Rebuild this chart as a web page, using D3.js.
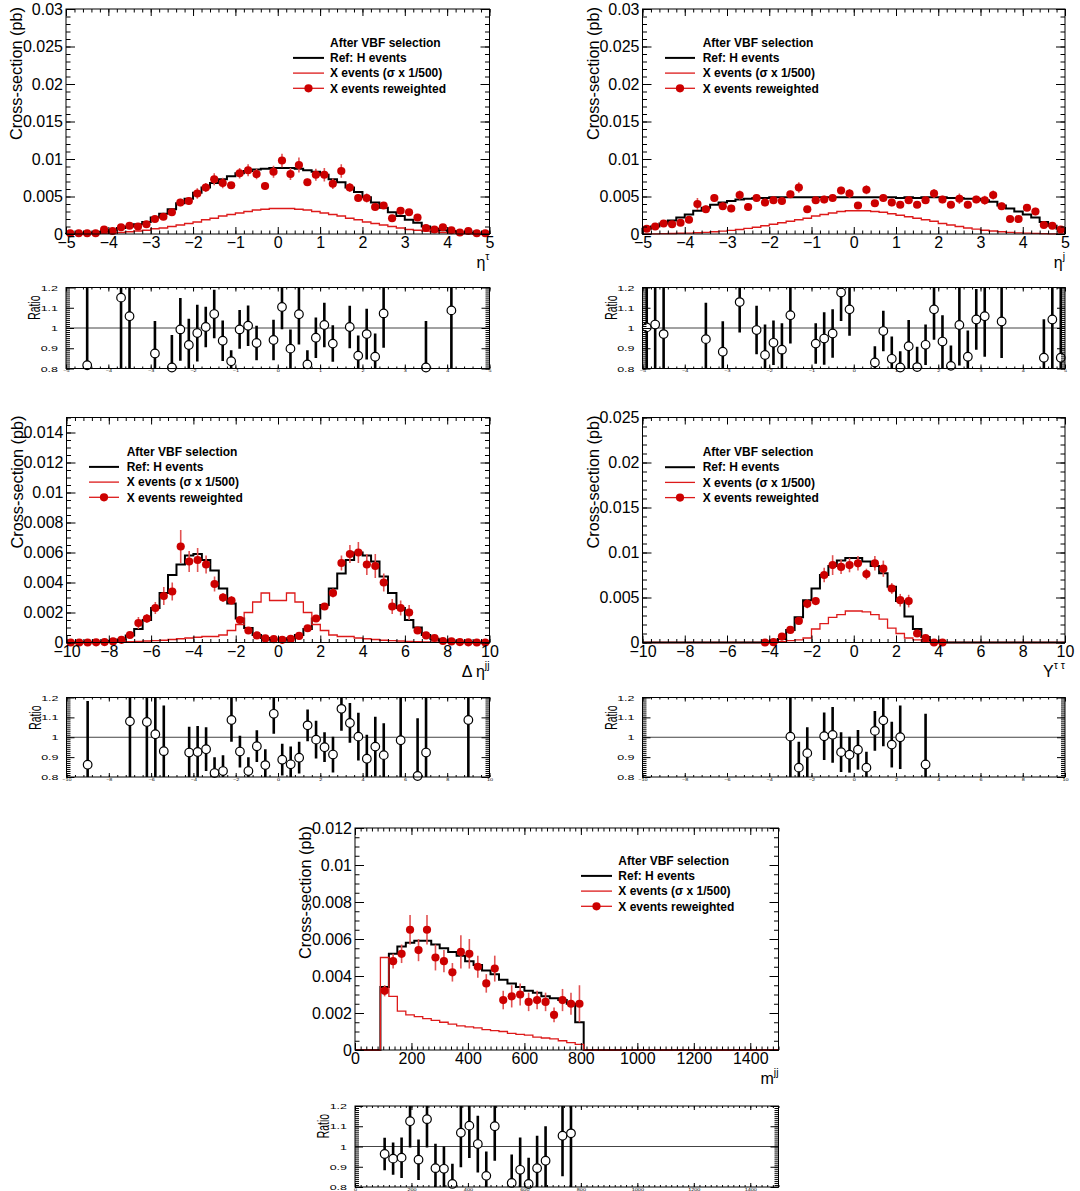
<!DOCTYPE html>
<html><head><meta charset="utf-8">
<script src="https://cdn.jsdelivr.net/npm/d3@7/dist/d3.min.js"></script>
<style>
body{margin:0;background:#fff;}
svg{display:block;}
</style></head><body>
<svg id="c" width="1080" height="1191"></svg>
<script>
// ---------------- DATA ----------------
// Panel 1: eta^tau, 50 bins from -5 to 5
const tauH = [0.00003,0.00005,0.0001,0.00018,0.0003,0.0005,0.0008,0.0010,0.0013,0.0016,
 0.0022,0.0027,0.0033,0.0041,0.0047,0.0055,0.0062,0.0068,0.0073,0.0077,
 0.0081,0.0084,0.0086,0.0087,0.0088,0.0088,0.0088,0.0087,0.0085,0.0083,
 0.0079,0.0073,0.0069,0.0062,0.0056,0.0049,0.0042,0.0035,0.0029,0.0024,
 0.0019,0.0015,0.0010,0.0007,0.0005,0.0004,0.0002,0.00012,0.00006,0.00003];
const tauX = [0,0.00002,0.00004,0.00006,0.0001,0.00014,0.0002,0.0003,0.0004,0.0005,
 0.0007,0.0008,0.0010,0.0012,0.0014,0.0016,0.0019,0.0021,0.0024,0.0026,
 0.0028,0.0030,0.0032,0.0033,0.0034,0.0034,0.0034,0.0033,0.0032,0.0030,
 0.0028,0.0026,0.0024,0.0021,0.0019,0.0016,0.0014,0.0012,0.0010,0.0008,
 0.0006,0.0005,0.0004,0.0003,0.0002,0.00014,0.0001,0.00006,0.00003,0.00002];
const tauPts = [0.0001,0.0001,0.0001,0.0001,0.0006,0.0004,0.0009,0.0011,0.0010,0.0013,
 0.0020,0.0023,0.0029,0.0042,0.0044,0.0054,0.0062,0.0073,0.0068,0.0065,
 0.0081,0.0085,0.0080,0.0064,0.0083,0.0098,0.0080,0.0092,0.0069,0.0079,
 0.0079,0.0067,0.0084,0.0062,0.0048,0.0048,0.0036,0.0038,0.0021,0.0031,
 0.0029,0.0022,0.0008,0.0006,0.0009,0.0005,0.0002,0.0004,0.0001,0.0001];
const tauErr = [0.0001,0.0001,0.0001,0.0001,0.0002,0.0002,0.0003,0.0003,0.0003,0.0003,
 0.0004,0.0004,0.0004,0.0005,0.0005,0.0007,0.0006,0.0008,0.0007,0.0004,
 0.0007,0.0008,0.0007,0.0005,0.0008,0.0009,0.0008,0.0010,0.0005,0.0008,
 0.0009,0.0007,0.0009,0.0006,0.0005,0.0006,0.0004,0.0004,0.0003,0.0004,
 0.0004,0.0004,0.0002,0.0002,0.0002,0.0001,0.0001,0.0001,0.0001,0.0001];
const tauRatioX = [-4.5,-3.7,-3.5,-2.9,-2.5,-2.3,-2.1,-1.9,-1.7,-1.5,-1.3,-1.1,-0.9,-0.7,-0.5,-0.1,0.1,0.3,0.5,0.7,0.9,1.1,1.3,1.7,1.9,2.1,2.3,2.5,3.5,4.1];
const tauRatio = [0.816,1.15,1.058,0.874,0.805,0.993,0.916,0.975,1.005,1.069,0.937,0.836,0.993,1.011,0.926,0.941,1.104,0.898,1.068,0.82,0.952,1.015,0.923,1.005,0.863,0.97,0.858,1.072,0.805,1.087];
const tauRatioErr = [0.5,0.5,0.5,0.16,0.16,0.155,0.13,0.14,0.1,0.12,0.1,0.054,0.096,0.1,0.085,0.1,0.11,0.095,0.15,0.07,0.1,0.11,0.09,0.105,0.1,0.125,0.115,0.17,0.23,0.5];

// Panel 2: eta^j, 50 bins from -5 to 5
const jetH = [0.0007,0.0010,0.0014,0.0018,0.0022,0.0026,0.0031,0.0035,0.0039,0.0042,
 0.0044,0.0046,0.0047,0.0048,0.0048,0.0049,0.0049,0.0049,0.0049,0.0049,
 0.0049,0.0049,0.0049,0.0049,0.0049,0.0049,0.0049,0.0049,0.0049,0.0049,
 0.0048,0.0049,0.0048,0.0049,0.0049,0.0049,0.0048,0.0048,0.0047,0.0047,
 0.0045,0.0043,0.0038,0.0034,0.0030,0.0026,0.0022,0.0016,0.0011,0.0007];
const jetX = [0.00002,0.00003,0.00005,0.00007,0.0001,0.00013,0.00017,0.00022,0.0003,0.00038,
 0.00048,0.0006,0.00075,0.0009,0.0011,0.0013,0.0015,0.0017,0.0019,0.0021,
 0.0024,0.0026,0.0028,0.0030,0.0031,0.0031,0.0031,0.0030,0.0029,0.0027,
 0.0025,0.0023,0.0021,0.0019,0.0017,0.0014,0.0012,0.0010,0.0008,0.00065,
 0.0005,0.0004,0.0003,0.00022,0.00016,0.00011,0.00008,0.00005,0.00003,0.00002];
const jetPts = [0.0007,0.0010,0.0014,0.0013,0.0015,0.0019,0.0040,0.0033,0.0048,0.0037,
 0.0034,0.0052,0.0036,0.0048,0.0042,0.0045,0.0044,0.0053,0.0062,0.0033,
 0.0045,0.0046,0.0048,0.0058,0.0054,0.0038,0.0059,0.0041,0.0048,0.0042,
 0.0039,0.0045,0.0039,0.0045,0.0054,0.0046,0.0039,0.0047,0.0039,0.0046,
 0.0045,0.0052,0.0037,0.0020,0.0020,0.0035,0.0030,0.0012,0.0011,0.0006];
const jetErr = [0.0002,0.0003,0.0003,0.0003,0.0003,0.0003,0.0008,0.0005,0.0005,0.0005,
 0.0005,0.0006,0.0005,0.0005,0.0005,0.0005,0.0005,0.0005,0.0007,0.0004,
 0.0004,0.0005,0.0005,0.0005,0.0006,0.0004,0.0006,0.0004,0.0005,0.0005,
 0.0004,0.0005,0.0004,0.0005,0.0006,0.0005,0.0004,0.0007,0.0005,0.0005,
 0.0006,0.0006,0.0005,0.0003,0.0003,0.0004,0.0005,0.0002,0.0002,0.0002];
const jetRatioX = [-4.9,-4.7,-4.5,-3.5,-3.1,-2.7,-2.3,-2.1,-1.9,-1.7,-1.5,-0.9,-0.7,-0.5,-0.3,-0.1,0.5,0.7,0.9,1.1,1.3,1.5,1.7,1.9,2.1,2.3,2.5,2.7,2.9,3.1,3.5,4.5,4.7,4.9];
const jetRatio = [1.003,1.017,0.97,0.945,0.883,1.128,0.99,0.867,0.927,0.893,1.063,0.923,0.948,0.973,1.175,1.092,0.83,0.985,0.848,0.805,0.91,0.807,0.917,1.092,0.933,0.813,1.015,0.858,1.042,1.058,1.032,0.853,1.042,0.853];
const jetRatioErr = [0.5,0.5,0.5,0.18,0.15,0.15,0.12,0.15,0.11,0.13,0.14,0.1,0.13,0.12,0.14,0.13,0.08,0.1,0.11,0.08,0.13,0.1,0.1,0.15,0.13,0.1,0.2,0.13,0.15,0.2,0.18,0.19,0.5,0.5];

// Panel 3: Delta eta^jj, 50 bins from -10 to 10
const detaH = [0,0,0.00001,0.00002,0.00004,0.0001,0.0002,0.00046,0.0009,0.0015,
 0.0023,0.0033,0.0045,0.0052,0.0058,0.0059,0.0055,0.0048,0.0036,0.0026,
 0.0016,0.00096,0.0005,0.0003,0.0002,0.0002,0.00028,0.0005,0.0009,0.0016,
 0.0025,0.0036,0.0046,0.0055,0.0060,0.0058,0.0054,0.0044,0.0033,0.0023,
 0.0015,0.0010,0.0005,0.00025,0.00012,0.00006,0.00003,0.00001,0,0];
const detaX = [0,0,0,0.00001,0.00002,0.00003,0.00004,0.00006,0.00008,0.0001,
 0.00012,0.00015,0.0002,0.00025,0.0003,0.00035,0.0004,0.0004,0.0005,0.0008,
 0.0012,0.0020,0.0027,0.0033,0.0028,0.0028,0.0033,0.0027,0.0020,0.0012,
 0.0008,0.0005,0.0004,0.0004,0.0003,0.00025,0.0002,0.00015,0.00012,0.0001,
 0.00008,0.00006,0.00004,0.00003,0.00002,0.00001,0,0,0,0];
const detaPts = [0,0,0,0.00001,0.00003,0.00007,0.00018,0.0005,0.0013,0.0016,
 0.0023,0.0031,0.0034,0.0064,0.0054,0.0055,0.0052,0.0039,0.0030,0.0028,
 0.0015,0.0008,0.00047,0.00027,0.00022,0.00018,0.00024,0.00044,0.00095,0.0016,
 0.0024,0.0033,0.0053,0.0059,0.0060,0.0052,0.0051,0.0040,0.0024,0.0023,
 0.0020,0.0008,0.00047,0.0003,0.0001,0.00007,0.00003,0.00001,0,0];
const detaErr = [0,0,0,0,0,0.00005,0.0001,0.0002,0.0004,0.0003,
 0.0004,0.0006,0.0006,0.0011,0.0007,0.0008,0.0006,0.0005,0.0003,0.0003,
 0.0002,0.0001,0.0001,0.0001,0.0001,0.0001,0.0001,0.0001,0.0001,0.0002,
 0.0002,0.0003,0.0005,0.0006,0.0007,0.0007,0.0008,0.0006,0.0005,0.0005,
 0.0005,0.0002,0.0002,0.0001,0.00005,0.00003,0,0,0,0];
const detaRatioX = [-9.0,-7.0,-6.2,-5.8,-5.4,-4.2,-3.8,-3.4,-3.0,-2.6,-2.2,-1.8,-1.4,-1.0,-0.6,-0.2,0.2,0.6,1.0,1.4,1.8,2.2,2.6,3.0,3.4,3.8,4.2,4.6,5.0,5.8,6.6,7.0,9.0];
const detaRatio = [0.862,1.08,1.077,1.015,0.93,0.923,0.926,0.94,0.82,0.83,1.087,0.928,0.83,0.955,0.86,1.118,0.887,0.864,0.897,1.06,0.988,0.95,0.913,1.143,1.072,1.003,0.892,0.953,0.91,0.985,0.805,0.923,1.087];
const detaRatioErr = [0.32,0.5,0.5,0.5,0.23,0.13,0.13,0.11,0.08,0.08,0.11,0.08,0.07,0.08,0.08,0.1,0.08,0.09,0.08,0.08,0.095,0.075,0.09,0.11,0.1,0.12,0.12,0.15,0.16,0.5,0.29,0.5,0.5];

// Panel 4: Y^tautau, bins of 0.4 on [-10,10]; listed bins start at -4.4 (others empty)
const yttH = [0,0.0001,0.0004,0.0014,0.0028,0.0047,0.0060,0.0075,0.0085,0.0091,0.0094,0.0094,0.0090,0.0085,0.0077,0.0062,0.0046,0.0029,0.0015,0.0006,0.0001,0];
const yttX = [0,0,0.0001,0.0002,0.0003,0.0005,0.0015,0.0021,0.0028,0.0031,0.0035,0.0035,0.0034,0.0031,0.0026,0.0016,0.0010,0.0005,0.0003,0.0001,0,0];
const yttPts = [0,0.00004,0.00066,0.0014,0.0024,0.0043,0.0046,0.0075,0.0086,0.0084,0.0086,0.0088,0.0076,0.0088,0.0082,0.0060,0.0047,0.0046,0.0010,0.0005,0,0];
const yttErr = [0,0.00003,0.0002,0.0003,0.0003,0.0005,0.0004,0.0008,0.0011,0.0008,0.0008,0.0008,0.0006,0.0008,0.0009,0.0006,0.0007,0.0007,0.0003,0.0002,0,0];
const yttRatioX = [-3.0,-2.6,-2.2,-1.4,-1.0,-0.6,-0.2,0.2,0.6,1.0,1.4,1.8,2.2,3.4];
const yttRatio = [1.003,0.847,0.92,1.005,1.012,0.925,0.912,0.937,0.847,1.032,1.085,0.963,1.0,0.863];
const yttRatioErr = [0.3,0.13,0.13,0.12,0.14,0.1,0.09,0.1,0.08,0.1,0.13,0.115,0.16,0.255];

// Panel 5: m^jj, bins of 30 on [0,1500]; listed bins start at 90 (others empty)
const mjjH = [0.0034,0.0052,0.0056,0.0058,0.0059,0.0059,0.0057,0.0055,0.0053,0.0051,0.0048,0.0046,0.0043,0.0041,0.0038,0.0036,0.0034,0.0032,0.0031,0.0029,0.0028,0.0027,0.0025,0.0015];
const mjjX = [0.0050,0.0029,0.0021,0.0019,0.0018,0.0017,0.0016,0.0015,0.0014,0.0013,0.00125,0.0012,0.0011,0.00105,0.0010,0.0009,0.00085,0.0008,0.0007,0.00065,0.0006,0.0005,0.0004,0.0003];
const mjjPts = [0.0032,0.0048,0.0052,0.0065,0.0054,0.0065,0.0050,0.0048,0.0042,0.0053,0.0052,0.0045,0.0036,0.0044,0.0027,0.0029,0.0030,0.0026,0.0027,0.0026,0.0019,0.0027,0.0025,0.0025];
const mjjErr = [0.0003,0.0004,0.0005,0.0008,0.0006,0.0008,0.0007,0.0006,0.0005,0.0009,0.0008,0.0006,0.0005,0.0007,0.0005,0.0006,0.0006,0.0005,0.0005,0.0005,0.0004,0.0006,0.0006,0.0010];
const mjjRatioX = [105,135,165,195,225,255,285,315,345,375,405,435,465,495,555,585,615,645,675,735,765];
const mjjRatio = [0.963,0.94,0.945,1.125,0.935,1.135,0.893,0.89,0.815,1.068,1.103,1.012,0.855,1.1,0.82,0.885,0.815,0.893,0.93,1.053,1.065];
const mjjRatioErr = [0.08,0.08,0.1,0.13,0.1,0.14,0.12,0.11,0.1,0.17,0.16,0.14,0.12,0.17,0.14,0.16,0.13,0.16,0.17,0.2,0.5];

// Tick values
const etaXTicks = [-5,-4,-3,-2,-1,0,1,2,3,4,5];
const wideXTicks = [-10,-8,-6,-4,-2,0,2,4,6,8,10];
const mjjXTicks = [0,200,400,600,800,1000,1200,1400];
const yTicks03 = [0,0.005,0.01,0.015,0.02,0.025,0.03];
const yTicks015 = [0,0.002,0.004,0.006,0.008,0.01,0.012,0.014];
const yTicks025 = [0,0.005,0.01,0.015,0.02,0.025];
const yTicks012 = [0,0.002,0.004,0.006,0.008,0.01,0.012];
const ratioYTicks = [0.8,0.9,1,1.1,1.2];

// Legend texts
const legendTitle = "After VBF selection";
const legendItems = ["Ref: H events","X events (\u03c3 x 1/500)","X events reweighted"];

// ---------------- DRAWING ----------------
const FONT = '"Liberation Sans", Arial, Helvetica, sans-serif';
const RED_PT = "#cc0000", RED_LINE = "#dd1a1a", RED_ERR = "#e25252";
const svg = d3.select("#c").style("font-family", FONT);
const fmt = v => String(v).replace("-", "\u2212");
const SQ = 0.65; // vertical squash of ratio pads

const panels = [
 {id:1, L:66, R:489.5, T:9, B:234, rT:287.5, rB:368.5, xd:[-5,5], yd:[0,0.03], xt:etaXTicks, xm:0.2, yt:yTicks03, ym:0.001,
  start:-5, w:0.2, H:tauH, X:tauX, P:tauPts, E:tauErr, RX:tauRatioX, RV:tauRatio, RE:tauRatioErr,
  leg:{x1:293, x2:324, tx:330, y0:42.7}, xTitle:["\u03b7","\u03c4"]},
 {id:2, L:642.5, R:1065, T:9, B:234, rT:287.5, rB:368.5, xd:[-5,5], yd:[0,0.03], xt:etaXTicks, xm:0.2, yt:yTicks03, ym:0.001,
  start:-5, w:0.2, H:jetH, X:jetX, P:jetPts, E:jetErr, RX:jetRatioX, RV:jetRatio, RE:jetRatioErr,
  leg:{x1:665, x2:695, tx:702.7, y0:42.7}, xTitle:["\u03b7","j"]},
 {id:3, L:66.5, R:489.5, T:417.5, B:642.5, rT:697.5, rB:777, xd:[-10,10], yd:[0,0.015], xt:wideXTicks, xm:0.4, yt:yTicks015, ym:0.0005,
  start:-10, w:0.4, H:detaH, X:detaX, P:detaPts, E:detaErr, RX:detaRatioX, RV:detaRatio, RE:detaRatioErr,
  leg:{x1:89, x2:119, tx:126.7, y0:451.7}, xTitle:["\u0394 \u03b7","jj"]},
 {id:4, L:642.5, R:1065, T:417.5, B:642.5, rT:697.5, rB:777, xd:[-10,10], yd:[0,0.025], xt:wideXTicks, xm:0.4, yt:yTicks025, ym:0.001,
  start:-4.4, w:0.4, H:yttH, X:yttX, P:yttPts, E:yttErr, RX:yttRatioX, RV:yttRatio, RE:yttRatioErr,
  leg:{x1:665, x2:695, tx:702.7, y0:452}, xTitle:["Y","\u03c4 \u03c4"]},
 {id:5, L:355, R:778.5, T:828, B:1050, rT:1106, rB:1187, xd:[0,1500], yd:[0,0.012], xt:mjjXTicks, xm:20, yt:yTicks012, ym:0.0005,
  start:90, w:30, H:mjjH, X:mjjX, P:mjjPts, E:mjjErr, RX:mjjRatioX, RV:mjjRatio, RE:mjjRatioErr,
  leg:{x1:581, x2:612, tx:618.3, y0:860.7}, xTitle:["m","jj"]}
];

function minorTicks(d, step) {
  const out = [];
  const n = Math.round((d[1]-d[0])/step);
  for (let i = 0; i <= n; i++) out.push(+(d[0] + i*step).toFixed(8));
  return out;
}

function styleAxis(g) {
  g.select(".domain").remove();
  g.selectAll("line").attr("stroke", "#000").attr("stroke-width", 1);
  g.attr("font-family", FONT);
}

function drawPanel(c) {
  const g = svg.append("g");
  const x = d3.scaleLinear().domain(c.xd).range([c.L, c.R]);
  const y = d3.scaleLinear().domain(c.yd).range([c.B, c.T]);

  // histograms (full range, empty bins at zero)
  const line = d3.line().x(d => x(d[0])).y(d => y(d[1])).curve(d3.curveStepAfter);
  const stepData = vals => {
    const pts = [[c.xd[0], 0]];
    vals.forEach((v, i) => pts.push([c.start + i*c.w, v]));
    pts.push([c.start + vals.length*c.w, 0]);
    pts.push([c.xd[1], 0]);
    return pts;
  };
  g.append("path").attr("d", line(stepData(c.H))).attr("fill", "none")
    .attr("stroke", "#000").attr("stroke-width", 2);
  g.append("path").attr("d", line(stepData(c.X))).attr("fill", "none")
    .attr("stroke", RED_LINE).attr("stroke-width", 1.3);

  // reweighted points
  const ctr = i => x(c.start + (i + 0.5)*c.w);
  g.append("g").selectAll("line").data(c.P).join("line")
    .attr("x1", (d, i) => ctr(i)).attr("x2", (d, i) => ctr(i))
    .attr("y1", (d, i) => y(Math.max(0, d - c.E[i]))).attr("y2", (d, i) => y(d + c.E[i]))
    .attr("stroke", RED_ERR).attr("stroke-width", 1.6);
  g.append("g").selectAll("circle").data(c.P).join("circle")
    .attr("cx", (d, i) => ctr(i)).attr("cy", d => y(d)).attr("r", 4.1)
    .attr("fill", RED_PT);

  // frame + axes
  g.append("rect").attr("x", c.L).attr("y", c.T).attr("width", c.R - c.L).attr("height", c.B - c.T)
    .attr("fill", "none").attr("stroke", "#000").attr("stroke-width", 1);
  const yMin = minorTicks(c.yd, c.ym), xMin = minorTicks(c.xd, c.xm);
  g.append("g").attr("transform", `translate(${c.L},0)`)
    .call(d3.axisLeft(y).tickValues(c.yt).tickSize(-9).tickPadding(3).tickFormat(fmt))
    .call(styleAxis).call(a => a.selectAll("text").attr("font-size", 16).attr("fill", "#000"));
  g.append("g").attr("transform", `translate(${c.L},0)`)
    .call(d3.axisLeft(y).tickValues(yMin).tickSize(-4.5).tickFormat("")).call(styleAxis);
  g.append("g").attr("transform", `translate(${c.R},0)`)
    .call(d3.axisRight(y).tickValues(c.yt).tickSize(-9).tickFormat("")).call(styleAxis);
  g.append("g").attr("transform", `translate(${c.R},0)`)
    .call(d3.axisRight(y).tickValues(yMin).tickSize(-4.5).tickFormat("")).call(styleAxis);
  g.append("g").attr("transform", `translate(0,${c.B})`)
    .call(d3.axisBottom(x).tickValues(c.xt).tickSize(-7).tickPadding(3).tickFormat(fmt))
    .call(styleAxis).call(a => a.selectAll("text").attr("font-size", 16).attr("fill", "#000"));
  g.append("g").attr("transform", `translate(0,${c.B})`)
    .call(d3.axisBottom(x).tickValues(xMin).tickSize(-3.5).tickFormat("")).call(styleAxis);
  g.append("g").attr("transform", `translate(0,${c.T})`)
    .call(d3.axisTop(x).tickValues(c.xt).tickSize(-7).tickFormat("")).call(styleAxis);
  g.append("g").attr("transform", `translate(0,${c.T})`)
    .call(d3.axisTop(x).tickValues(xMin).tickSize(-3.5).tickFormat("")).call(styleAxis);

  // axis titles
  g.append("text").attr("transform", `translate(${c.L - 44},${c.T - 2}) rotate(-90)`)
    .attr("text-anchor", "end").attr("font-size", 16.3).text("Cross-section (pb)");
  const xt = g.append("text").attr("x", c.R).attr("y", c.B + 34).attr("text-anchor", "end").attr("font-size", 16);
  xt.append("tspan").text(c.xTitle[0]);
  xt.append("tspan").attr("dy", -8).attr("font-size", 10.5).text(c.xTitle[1]);

  // legend
  const lg = g.append("g").attr("font-weight", "bold").attr("font-size", 12);
  const rowY = k => c.leg.y0 + k*15.2;
  lg.append("text").attr("x", c.leg.tx).attr("y", rowY(0)).attr("dy", "0.35em").text(legendTitle);
  legendItems.forEach((t, k) => {
    lg.append("text").attr("x", c.leg.tx).attr("y", rowY(k+1)).attr("dy", "0.35em").text(t);
    const col = k === 0 ? "#000" : RED_LINE;
    lg.append("line").attr("x1", c.leg.x1).attr("x2", c.leg.x2).attr("y1", rowY(k+1)).attr("y2", rowY(k+1))
      .attr("stroke", col).attr("stroke-width", k === 0 ? 2 : 1.3);
    if (k === 2) lg.append("circle").attr("cx", (c.leg.x1 + c.leg.x2)/2).attr("cy", rowY(k+1)).attr("r", 4.1).attr("fill", RED_PT);
  });

  // ---------- ratio pad ----------
  const ry = d3.scaleLinear().domain([0.8, 1.2]).range([c.rB, c.rT]);
  const clipId = "rclip" + c.id;
  svg.append("clipPath").attr("id", clipId).append("rect")
    .attr("x", c.L).attr("y", c.rT).attr("width", c.R - c.L).attr("height", c.rB - c.rT);
  const rg = svg.append("g");
  rg.append("line").attr("x1", c.L).attr("x2", c.R).attr("y1", ry(1)).attr("y2", ry(1))
    .attr("stroke", "#444").attr("stroke-width", 1);
  rg.append("g").attr("clip-path", `url(#${clipId})`).selectAll("line").data(c.RV).join("line")
    .attr("x1", (d, i) => x(c.RX[i])).attr("x2", (d, i) => x(c.RX[i]))
    .attr("y1", (d, i) => ry(d - c.RE[i])).attr("y2", (d, i) => ry(d + c.RE[i]))
    .attr("stroke", "#000").attr("stroke-width", 2.6);
  rg.append("g").selectAll("circle").data(c.RV).join("circle")
    .attr("cx", (d, i) => x(c.RX[i])).attr("cy", d => ry(d)).attr("r", 4.3)
    .attr("fill", "#fff").attr("stroke", "#000").attr("stroke-width", 1.2);
  rg.append("rect").attr("x", c.L).attr("y", c.rT).attr("width", c.R - c.L).attr("height", c.rB - c.rT)
    .attr("fill", "none").attr("stroke", "#000").attr("stroke-width", 1);
  const rMin = minorTicks([0.8, 1.2], 0.01);
  rg.append("g").attr("transform", `translate(${c.L},0)`)
    .call(d3.axisLeft(ry).tickValues(ratioYTicks).tickSize(-8).tickPadding(8).tickFormat(fmt))
    .call(styleAxis).call(a => a.selectAll("text").attr("font-size", 12.5).attr("fill", "#000")
      .attr("transform", `scale(1,${SQ})`));
  rg.append("g").attr("transform", `translate(${c.L},0)`)
    .call(d3.axisLeft(ry).tickValues(rMin).tickSize(-4).tickFormat("")).call(styleAxis);
  rg.append("g").attr("transform", `translate(${c.R},0)`)
    .call(d3.axisRight(ry).tickValues(ratioYTicks).tickSize(-8).tickFormat("")).call(styleAxis);
  rg.append("g").attr("transform", `translate(${c.R},0)`)
    .call(d3.axisRight(ry).tickValues(rMin).tickSize(-4).tickFormat("")).call(styleAxis);
  rg.append("g").attr("transform", `translate(0,${c.rB})`)
    .call(d3.axisBottom(x).tickValues(c.xt).tickSize(-4).tickPadding(1.5).tickFormat(fmt))
    .call(styleAxis).call(a => a.selectAll("text").attr("font-size", 5.5).attr("fill", "#000")
      .attr("transform", `scale(1,${SQ})`));
  rg.append("g").attr("transform", `translate(0,${c.rB})`)
    .call(d3.axisBottom(x).tickValues(xMin).tickSize(-2).tickFormat("")).call(styleAxis);
  rg.append("g").attr("transform", `translate(0,${c.rT})`)
    .call(d3.axisTop(x).tickValues(c.xt).tickSize(-4).tickFormat("")).call(styleAxis);
  rg.append("g").attr("transform", `translate(0,${c.rT})`)
    .call(d3.axisTop(x).tickValues(xMin).tickSize(-2).tickFormat("")).call(styleAxis);
  rg.append("text").attr("transform", `translate(${c.L - 26},${c.rT + 8}) scale(1,${SQ}) rotate(-90)`)
    .attr("text-anchor", "end").attr("font-size", 16).text("Ratio");
}

panels.forEach(drawPanel);
</script>
</body></html>
